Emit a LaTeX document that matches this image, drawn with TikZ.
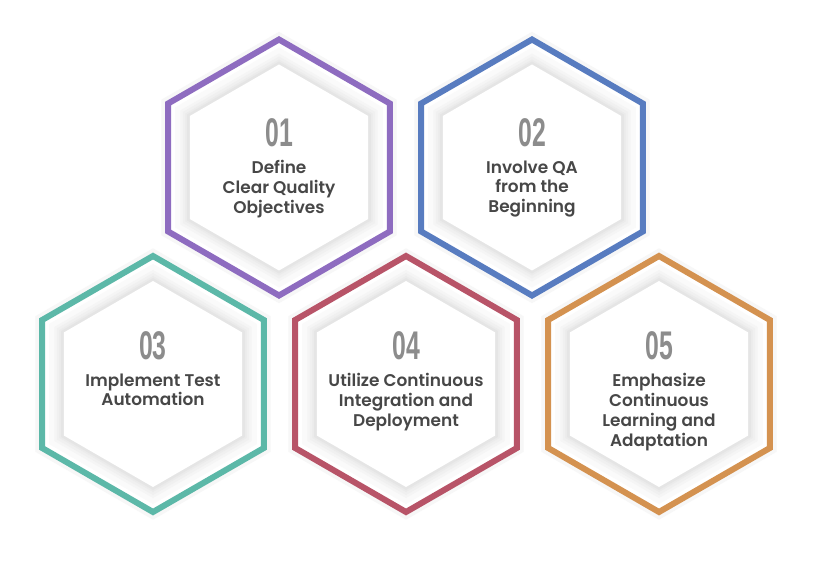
\documentclass[tikz,border=0pt]{standalone}
\usepackage{fontspec}
\setmainfont{Poppins}[BoldFont={Poppins SemiBold}]
\newfontfamily\numfont{Liberation Sans}
\usetikzlibrary{positioning,shapes.geometric,calc}
\definecolor{hexpurple}{HTML}{8E6CC0}
\definecolor{hexblue}{HTML}{587CC0}
\definecolor{hexteal}{HTML}{5CB8A8}
\definecolor{hexred}{HTML}{B85468}
\definecolor{hexorange}{HTML}{D49250}
\definecolor{numgray}{HTML}{8C8C8C}
\definecolor{txtgray}{HTML}{474747}

\begin{document}
\begin{tikzpicture}[
      x=0.75pt, y=0.75pt,
      hexcell/.style={regular polygon, regular polygon sides=6,
                      shape border rotate=30, minimum size=192pt,
                      inner sep=0pt, draw=#1, line width=4.5pt, fill=white,
                      preaction={draw=black!3, line width=10pt},
                      path picture={
                        \begin{scope}[shift={(path picture bounding box.center)}]
                          \foreach \r/\g in {120/2,114/4,111/6,108/8,106/10}
                            \fill[black!\g] (90:\r) -- (150:\r) -- (210:\r)
                              -- (270:\r) -- (330:\r) -- (30:\r) -- cycle;
                          \fill[white] (90:103) -- (150:103) -- (210:103)
                            -- (270:103) -- (330:103) -- (30:103) -- cycle;
                        \end{scope}}},
      num/.style={font=\numfont\bfseries\fontsize{30}{30}\selectfont,
                  text=numgray, inner sep=0pt},
      txt/.style={font=\bfseries\fontsize{12.7}{14.8}\selectfont,
                  text=txtgray, align=center, inner sep=0pt}
    ]
    \useasboundingbox[fill=white] (0,0) rectangle (813,561);

    % ---- top row ----
    \node[hexcell=hexpurple] (h1) at (279,393.5) {};
    \node[hexcell=hexblue] (h2) at (532,393.5) {};

    % ---- bottom row ----
    \node[hexcell=hexteal] (h3) at (153,177) {};
    \node[hexcell=hexred] (h4) at (406,177) {};
    \node[hexcell=hexorange] (h5) at (659,177) {};

    % ---- numbers ----
    \node[num] (n1) at ($(h1)+(0,35)$) {\scalebox{0.62}[1]{01}};
    \node[num] (n2) at ($(h2)+(0,35)$) {\scalebox{0.62}[1]{02}};
    \node[num] (n3) at ($(h3)+(0,38.5)$) {\scalebox{0.62}[1]{03}};
    \node[num] (n4) at ($(h4)+(0,38.5)$) {\scalebox{0.62}[1]{04}};
    \node[num] (n5) at ($(h5)+(0,38.5)$) {\scalebox{0.62}[1]{05}};

    % ---- labels ----
    \node[txt, below=10pt of n1] (t1) {Define\\ Clear Quality\\ Objectives};
    \node[txt, below=10pt of n2] (t2) {Involve QA\\ from the\\ Beginning};
    \node[txt, below=10pt of n3] (t3) {Implement Test\\ Automation};
    \node[txt, below=10pt of n4] (t4) {Utilize Continuous\\ Integration and\\ Deployment};
    \node[txt, below=10pt of n5] (t5) {Emphasize\\ Continuous\\ Learning and\\ Adaptation};
  \end{tikzpicture}
\end{document}
